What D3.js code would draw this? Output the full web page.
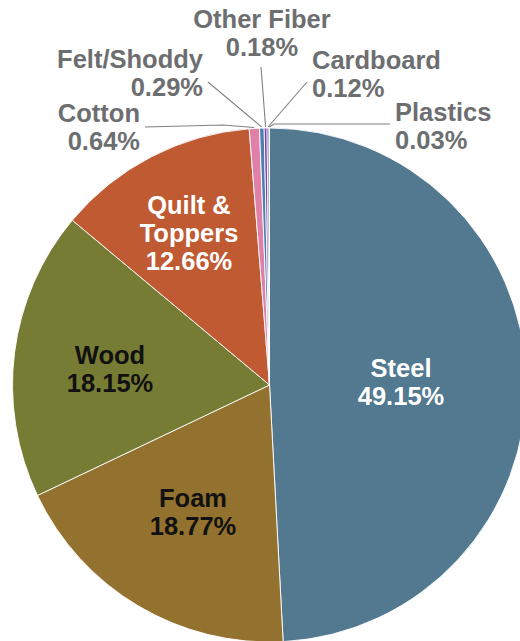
<!DOCTYPE html>
<html>
<head>
<meta charset="utf-8">
<script src="https://cdn.jsdelivr.net/npm/d3@7"></script>
<style>
  html, body { margin: 0; padding: 0; background: #fff; }
  svg { display: block; }
  text { font-family: "Liberation Sans", Arial, sans-serif; font-weight: bold; }
</style>
</head>
<body>
<svg id="chart" width="520" height="641"></svg>
<script>
// ---- data ----
const categories = ["Steel", "Foam", "Wood", "Quilt & Toppers", "Cotton", "Felt/Shoddy", "Other Fiber", "Cardboard", "Plastics"];
const shares = [49.15, 18.77, 18.15, 12.66, 0.64, 0.29, 0.18, 0.12, 0.03];
const labelLines = [["Steel"], ["Foam"], ["Wood"], ["Quilt &", "Toppers"], ["Cotton"], ["Felt/Shoddy"], ["Other Fiber"], ["Cardboard"], ["Plastics"]];

// ---- styles / layout (kept separate from data) ----
const colors = ["#52798f", "#93712e", "#777c34", "#c05a33", "#e07fa7", "#4f7fb0", "#7a3fa0", "#2e3690", "#5a8fc8"];
const textColors = ["#ffffff", "#111111", "#111111", "#ffffff", "#6d6e70", "#6d6e70", "#6d6e70", "#6d6e70", "#6d6e70"];
const labelLayout = [
  { x: 401, y: 377, anchor: "middle" },
  { x: 193, y: 507, anchor: "middle" },
  { x: 110, y: 364, anchor: "middle" },
  { x: 189, y: 214, anchor: "middle" },
  { x: 140, y: 122, anchor: "end",    line: [[145, 127], [223, 125]] },
  { x: 203, y: 68,  anchor: "end",    line: [[208, 82]] },
  { x: 262, y: 28,  anchor: "middle", line: [[261, 67]] },
  { x: 312, y: 69,  anchor: "start",  line: [[307, 82]] },
  { x: 395, y: 121, anchor: "start",  line: [[390, 124], [274, 124]] }
];
const fontSize = 25.5, lineGap = 28;

const cx = 269.5, cy = 385, R = 257;

const svg = d3.select("#chart");
const g = svg.append("g").attr("transform", `translate(${cx},${cy})`);

const data = categories.map((c, i) => ({ name: c, value: shares[i], idx: i }));
const pie = d3.pie().value(d => d.value).sort(null);
const arcs = pie(data);
const arc = d3.arc().innerRadius(0).outerRadius(R);
const edgeArc = d3.arc().innerRadius(R + 1).outerRadius(R + 1);

g.selectAll("path.slice")
  .data(arcs)
  .join("path")
  .attr("class", "slice")
  .attr("d", arc)
  .attr("fill", d => colors[d.data.idx])
  .attr("stroke", "#ffffff")
  .attr("stroke-width", 0.9)
  .attr("stroke-linejoin", "round");

// leader lines for small slices
arcs.forEach(a => {
  const L = labelLayout[a.data.idx];
  if (!L.line) return;
  const c = edgeArc.centroid(a);
  const pts = L.line.map(p => [p[0] - cx, p[1] - cy]).concat([c]);
  g.append("path")
    .attr("d", d3.line()(pts))
    .attr("fill", "none")
    .attr("stroke", "#808080")
    .attr("stroke-width", 1.1);
});

// labels
arcs.forEach(a => {
  const i = a.data.idx;
  const L = labelLayout[i];
  const lines = labelLines[i].concat([d3.format(".2f")(shares[i]) + "%"]);
  const t = svg.append("text")
    .attr("text-anchor", L.anchor)
    .attr("fill", textColors[i])
    .attr("font-size", fontSize);
  lines.forEach((s, k) => {
    t.append("tspan").attr("x", L.x).attr("y", L.y + k * lineGap).text(s);
  });
});
</script>
</body>
</html>
